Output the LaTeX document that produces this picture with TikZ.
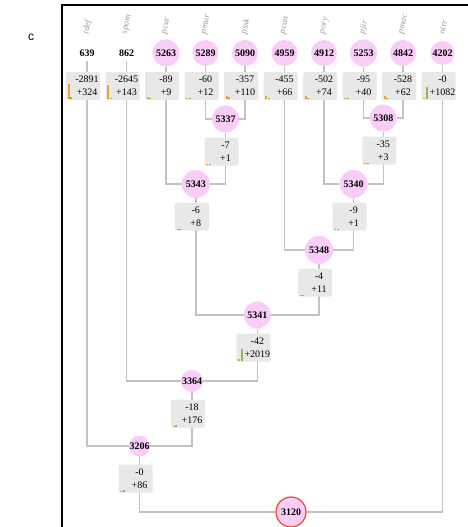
\documentclass[tikz,border=0pt]{standalone}
\usepackage{fontspec}
\setmainfont{Liberation Serif}
\newfontfamily\panelfont{Liberation Sans}
\usetikzlibrary{backgrounds}
\definecolor{cntpink}{HTML}{F9CDF7}
\definecolor{boxgray}{HTML}{E8E8E8}
\definecolor{linkgray}{HTML}{C2C2C2}
\definecolor{taxongray}{HTML}{9A9A9A}
\definecolor{rootred}{HTML}{E8482A}
\definecolor{negbar}{HTML}{F4A030}
\definecolor{posbar}{HTML}{8DB84A}
\tikzset{
  taxon/.style={rotate=78, anchor=west, inner sep=0pt, text=taxongray,
    font=\fontsize{9}{10}\selectfont\itshape},
  cnt/.style={circle, fill=cntpink, inner sep=0pt,
    font=\fontsize{10}{12}\selectfont\bfseries},
  valbox/.style={rectangle, fill=boxgray, rounded corners=1.5pt, inner sep=0pt,
    minimum width=34pt, minimum height=28pt},
  valtxt/.style={xshift=4pt, align=center, inner sep=0pt,
    font=\fontsize{10}{13}\selectfont},
  link/.style={draw=linkgray, line width=1.5pt},
  rootcnt/.style={cnt, draw=rootred, line width=1.2pt, minimum size=30pt}
}
\begin{document}
\begin{tikzpicture}[x=1pt,y=-1pt]
  \useasboundingbox (0,0) rectangle (468,527);
  \node[font=\panelfont\fontsize{12}{14}\selectfont] (panel) at (31,37) {c};
  \draw[line width=1.3pt] (62,527) -- (62,5) -- (468,5);
  % leaves: name, x, count, fill, size, values, bar heights
  \foreach \nm/\x/\cnt/\fc/\dm/\lo/\hi/\ob/\gb in {
      tdef/87/639/white/0/-2891/+324/15/2,
      spom/126.5/862/white/0/-2645/+143/14/1.5,
      pcar/166/5263/cntpink/27/-89/+9/2/1,
      pmur/205.5/5289/cntpink/26/-60/+12/1.5/1,
      pssk/245/5090/cntpink/26/-357/+110/3/2,
      pcan/284.5/4959/cntpink/26/-455/+66/3/1.5,
      pory/324/4912/cntpink/26/-502/+74/3/1.5,
      pjir/363.5/5253/cntpink/27/-95/+40/1.5/1,
      pmac/403/4842/cntpink/26/-528/+62/3/1.5,
      nirr/442.5/4202/cntpink/24/-0/+1082/1/12} {
    \node[taxon] (t-\nm) at (\x-1,34) {\nm};
    \node[cnt, fill=\fc, minimum size=\dm pt] (c-\nm) at (\x,53) {\cnt};
    \node[valbox, label={[valtxt]center:{\lo\\\hi}}] (v-\nm) at (\x-4,86) {};
    \fill[negbar] ([xshift=2pt,yshift=1pt]v-\nm.south west) rectangle ++(2pt,\ob pt);
    \fill[posbar] ([xshift=4.5pt,yshift=1pt]v-\nm.south west) rectangle ++(2pt,\gb pt);
  }
  % inner nodes
  \foreach \nm/\x/\y/\dm/\lo/\hi/\ob/\gb in {
      5337/225.5/119/27/-7/+1/1/1,
      5343/195.75/184/28/-6/+8/1/1,
      5308/383.25/118/27/-35/+3/1/1,
      5340/353.6/184/28/-9/+1/1/1,
      5348/319/250/28/-4/+11/1/1,
      5341/257.4/315/27/-42/+2019/1.5/12,
      3364/192/381/22/-18/+176/1/2,
      3206/139.5/446/20/-0/+86/1/1.5} {
    \node[cnt, minimum size=\dm pt] (n\nm) at (\x,\y) {\nm};
    \node[valbox, label={[valtxt]center:{\lo\\\hi}}] (v\nm) at (\x-4,\y+32.5) {};
    \fill[negbar] ([xshift=2pt,yshift=1pt]v\nm.south west) rectangle ++(2pt,\ob pt);
    \fill[posbar] ([xshift=4.5pt,yshift=1pt]v\nm.south west) rectangle ++(2pt,\gb pt);
  }
  \node[rootcnt] (n3120) at (291,512) {3120};
  \begin{scope}[on background layer]
    \draw[link] (c-pmur) |- (n5337);
    \draw[link] (c-pssk) |- (n5337);
    \draw[link] (c-pcar) |- (n5343);
    \draw[link] (n5337) |- (n5343);
    \draw[link] (c-pjir) |- (n5308);
    \draw[link] (c-pmac) |- (n5308);
    \draw[link] (c-pory) |- (n5340);
    \draw[link] (n5308) |- (n5340);
    \draw[link] (c-pcan) |- (n5348);
    \draw[link] (n5340) |- (n5348);
    \draw[link] (n5343) |- (n5341);
    \draw[link] (n5348) |- (n5341);
    \draw[link] (c-spom) |- (n3364);
    \draw[link] (n5341) |- (n3364);
    \draw[link] (c-tdef) |- (n3206);
    \draw[link] (n3364) |- (n3206);
    \draw[link] (n3206) |- (n3120);
    \draw[link] (c-nirr) |- (n3120);
  \end{scope}
\end{tikzpicture}
\end{document}
